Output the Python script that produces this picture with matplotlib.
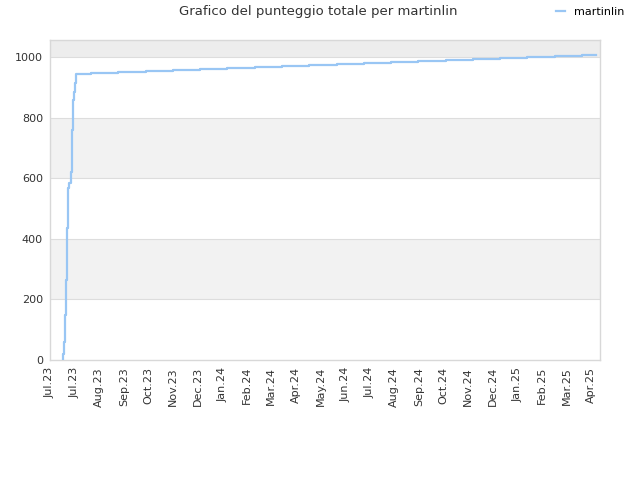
import matplotlib
matplotlib.use('Agg')
import matplotlib.pyplot as plt
import numpy as np

# days since start of the x range, and total score
giorni = [14.1, 14.1, 15.2, 16.4, 17.5, 18.6, 19.7, 21.1, 23.0, 24.5, 25.3, 26.7, 27.8, 29.3,
          45.6, 75.7, 106.8, 136.9, 166.9, 197.0, 228.2, 258.2, 288.3, 319.4, 349.5,
          379.5, 409.6, 440.7, 470.8, 500.8, 530.9, 562.0, 592.1, 607.7]
punteggio = [0, 20, 60, 148, 264, 435, 567, 583, 621, 758, 857, 884, 913, 943,
             947, 950, 953, 957, 960, 963, 967, 970, 973, 977, 980,
             983, 987, 990, 993, 997, 1000, 1003, 1007, 1007]

etichette_x = ['Jul.23', 'Jul.23', 'Aug.23', 'Sep.23', 'Oct.23', 'Nov.23', 'Dec.23', 'Jan.24',
               'Feb.24', 'Mar.24', 'Apr.24', 'May.24', 'Jun.24', 'Jul.24', 'Aug.24', 'Sep.24',
               'Oct.24', 'Nov.24', 'Dec.24', 'Jan.25', 'Feb.25', 'Mar.25', 'Apr.25']
tick_x = np.linspace(0, 602, len(etichette_x))

fig = plt.figure(figsize=(6.4, 4.8), dpi=100)
ax = fig.add_axes([50 / 640, 1 - 360 / 480, 550 / 640, 320 / 480])

ax.set_xlim(0, 612)
ax.set_ylim(0, 1056)

# alternating bands
bande = [('#ffffff', 0), ('#f2f2f2', 200), ('#ffffff', 400), ('#f2f2f2', 600),
         ('#ffffff', 800), ('#ededed', 1000)]
for col, y0 in bande:
    ax.axhspan(y0, y0 + 200, color=col, zorder=0, lw=0)
for y in [200, 400, 600, 800, 1000]:
    ax.axhline(y, color='#dddddd', lw=0.8, zorder=1)

ax.plot(giorni, punteggio, drawstyle='steps-post', color='#99c6f4', lw=1.6,
        label='martinlin', zorder=3)

ax.set_yticks([0, 200, 400, 600, 800, 1000])
ax.set_xticks(tick_x)
ax.set_xticklabels(etichette_x, rotation=90)
ax.tick_params(axis='both', length=0, labelsize=8, colors='#333333', pad=5)
for s in ax.spines.values():
    s.set_color('#d8d8d8')
    s.set_linewidth(1)

fig.text(318 / 640, 1 - 12 / 480, 'Grafico del punteggio totale per martinlin',
         ha='center', va='center', fontsize=9.5, color='#333333')
fig.legend(loc='center', bbox_to_anchor=(590 / 640, 1 - 12 / 480), frameon=False,
           fontsize=8, handlelength=0.8, handletextpad=0.8)

fig.savefig('out.png', dpi=100)
